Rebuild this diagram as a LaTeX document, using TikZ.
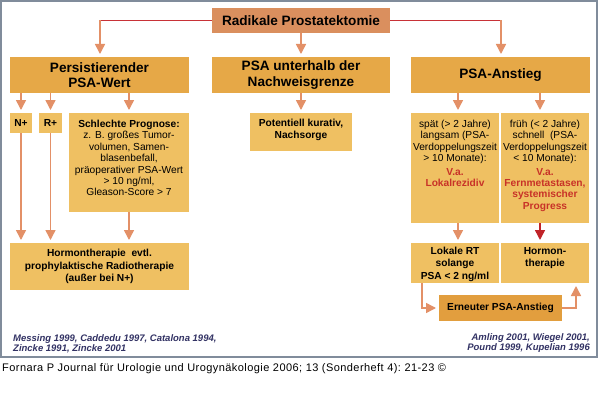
\documentclass[tikz,border=0pt]{standalone}
\usepackage{fontspec}
\setmainfont{Liberation Sans}
\newfontfamily\footfont[LetterSpace=4]{Liberation Sans}
\usetikzlibrary{arrows.meta}
\definecolor{framec}{RGB}{128,140,155}
\definecolor{topc}{RGB}{218,143,94}
\definecolor{headc}{RGB}{230,168,71}
\definecolor{lightc}{RGB}{239,192,98}
\definecolor{darkc}{RGB}{226,158,62}
\definecolor{salmon}{RGB}{227,144,103}
\definecolor{redline}{RGB}{200,50,55}
\definecolor{redarr}{RGB}{192,35,40}
\definecolor{redtxt}{RGB}{200,50,40}
\definecolor{citec}{RGB}{50,50,100}
\newcommand\mybox[6]{\node[#6, minimum width={#4-#2}, minimum height={#5-#3}] (#1) at ({(#2+#4)/2},{(#3+#5)/2}) {};}
\begin{document}
\begin{tikzpicture}[x=1pt,y=-1pt,
  bx/.style={draw=none, inner sep=0pt, outer sep=0pt},
  topbox/.style={bx, fill=topc},
  headbox/.style={bx, fill=headc},
  lightbox/.style={bx, fill=lightc},
  darkbox/.style={bx, fill=darkc},
  head/.style={font=\fontsize{13.6}{15.7}\selectfont\bfseries, align=center, inner sep=0pt},
  body/.style={font=\fontsize{10.2}{11.4}\selectfont, align=center, inner sep=0pt},
  bbody/.style={font=\fontsize{10.2}{12.4}\selectfont\bfseries, align=center, inner sep=0pt},
  cite/.style={font=\fontsize{9.5}{10.8}\selectfont\bfseries\itshape, text=citec, inner sep=0pt},
  arr/.style={draw=salmon, line width=1.5pt, -{Triangle[length=10pt,width=10pt]}, shorten >=3pt},
  rarr/.style={draw=redarr, line width=1.5pt, -{Triangle[length=10pt,width=10pt]}, shorten >=3pt}
  ]
\useasboundingbox (0,0) rectangle (600,420);
\fill[white] (0,0) rectangle (600,420);
\draw[framec, line width=1.5pt] (1,1) rectangle (597,357);

% boxes
\mybox{top}{212}{8}{390}{33}{topbox}
\mybox{persist}{10}{57}{189}{93}{headbox}
\mybox{unter}{212}{57}{390}{93}{headbox}
\mybox{anstieg}{411}{57}{590}{93}{headbox}
\mybox{np}{10}{113}{32}{133}{lightbox}
\mybox{rp}{39}{113}{62}{133}{lightbox}
\mybox{schlecht}{69}{113}{189}{212}{lightbox}
\mybox{kurativ}{250}{113}{352}{151}{lightbox}
\mybox{spaet}{411}{113}{499}{223}{lightbox}
\mybox{frueh}{501}{113}{589}{223}{lightbox}
\mybox{hormon}{10}{243}{189}{290}{lightbox}
\mybox{lokal}{411}{243}{499}{283}{lightbox}
\mybox{hormtwo}{501}{243}{589}{283}{lightbox}
\mybox{erneut}{439}{295}{562}{321}{darkbox}

% texts
\node[head] (ttop) at (top) {Radikale Prostatektomie};
\node[head] (tpersist) at (persist) {Persistierender\\PSA-Wert};
\node[head] (tunter) at (unter) {PSA unterhalb der\\Nachweisgrenze};
\node[head] (tanstieg) at (anstieg) {PSA-Anstieg};
\node[bbody] (tnp) at (np) {N+};
\node[bbody] (trp) at (rp) {R+};
\node[body, anchor=north] (tschlecht) at ([yshift=-7pt]schlecht.north) {\textbf{Schlechte Prognose:}\\z. B. großes Tumor-\\volumen, Samen-\\blasenbefall,\\präoperativer PSA-Wert\\> 10 ng/ml,\\Gleason-Score > 7};
\node[bbody, anchor=north] (tkurativ) at ([yshift=-6pt]kurativ.north) {Potentiell kurativ,\\Nachsorge};
\node[body, anchor=north] (tspaet) at ([yshift=-7pt]spaet.north) {spät (> 2 Jahre)\\langsam (PSA-\\Verdoppelungszeit\\> 10 Monate):\\[2pt]\textcolor{redtxt}{\textbf{V.a.}}\\\textcolor{redtxt}{\textbf{Lokalrezidiv}}};
\node[body, anchor=north] (tfrueh) at ([yshift=-7pt]frueh.north) {früh (< 2 Jahre)\\schnell\ \ (PSA-\\Verdoppelungszeit\\< 10 Monate):\\[2pt]\textcolor{redtxt}{\textbf{V.a.}}\\\textcolor{redtxt}{\textbf{Fernmetastasen,}}\\\textcolor{redtxt}{\textbf{systemischer}}\\\textcolor{redtxt}{\textbf{Progress}}};
\node[bbody] (thormon) at (hormon) {Hormontherapie\ \ evtl.\\prophylaktische Radiotherapie\\(außer bei N+)};
\node[bbody, anchor=north] (tlokal) at ([yshift=-4pt]lokal.north) {Lokale RT\\solange\\PSA < 2 ng/ml};
\node[bbody, anchor=north] (thormtwo) at ([yshift=-4pt]hormtwo.north) {Hormon-\\therapie};
\node[bbody] (terneut) at (erneut) {Erneuter PSA-Anstieg};

% top connectors
\coordinate (tl) at (100,20.5);
\coordinate (tr) at (501,20.5);
\draw[redline, line width=1pt] (top.west) -- (tl);
\draw[redline, line width=1pt] (top.east) -- (tr);
\draw[arr] (tl) -- (tl |- persist.north);
\draw[arr] (tr) -- (tr |- anstieg.north);
\draw[arr] (top.south) -- (unter.north);

% persist connectors
\coordinate (p1) at (21,93);
\coordinate (p2) at (50.5,93);
\coordinate (p3) at (129,93);
\draw[arr] (p1) -- (p1 |- np.north);
\draw[arr] (p2) -- (p2 |- rp.north);
\draw[arr] (p3) -- (p3 |- schlecht.north);
\draw[arr] (np.south) -- (np.south |- hormon.north);
\draw[arr] (rp.south) -- (rp.south |- hormon.north);
\draw[arr] (schlecht.south) -- (schlecht.south |- hormon.north);

% unter
\draw[arr] (unter.south) -- (kurativ.north);

% anstieg
\coordinate (a1) at (458,93);
\coordinate (a2) at (540,93);
\draw[arr] (a1) -- (a1 |- spaet.north);
\draw[arr] (a2) -- (a2 |- frueh.north);
\coordinate (s1) at (458,223);
\coordinate (f1) at (540,223);
\draw[arr] (s1) -- (s1 |- lokal.north);
\draw[rarr] (f1) -- (f1 |- hormtwo.north);

% erneut
\coordinate (l1) at (422,283);
\coordinate (l2) at (422,308);
\coordinate (e1) at (576,308);
\coordinate (e2) at (576,283);
\draw[arr] (l1) -- (l2) -- (erneut.west);
\draw[arr] (erneut.east) -- (e1) -- (e2);

% citations
\node[cite, anchor=north west, align=left] (citel) at (13,334) {Messing 1999, Caddedu 1997, Catalona 1994,\\Zincke 1991, Zincke 2001};
\node[cite, anchor=north east, align=right] (citer) at (590,333) {Amling 2001, Wiegel 2001,\\Pound 1999, Kupelian 1996};

% footer
\node[font=\footfont\fontsize{11}{12}\selectfont, anchor=base west, inner sep=0pt] (foot) at (2,371) {Fornara P Journal für Urologie und Urogynäkologie 2006; 13 (Sonderheft 4):\ 21-23 ©};
\end{tikzpicture}
\end{document}
